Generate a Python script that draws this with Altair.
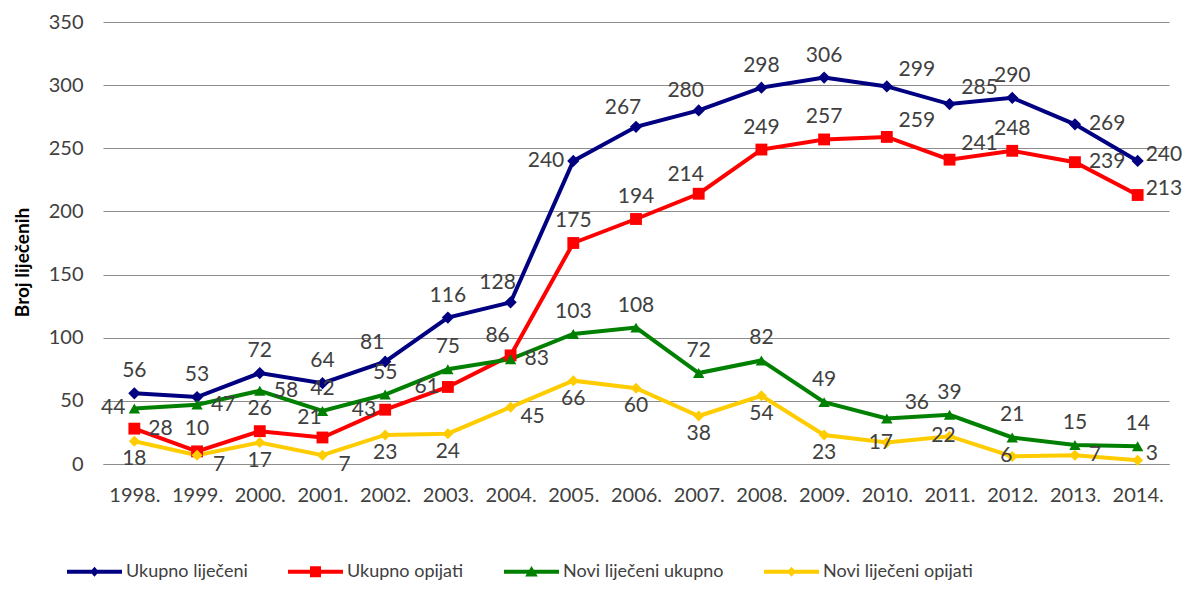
import altair as alt
import pandas as pd

# ---------------- data ----------------
years = ["1998.", "1999.", "2000.", "2001.", "2002.", "2003.", "2004.", "2005.", "2006.",
         "2007.", "2008.", "2009.", "2010.", "2011.", "2012.", "2013.", "2014."]
series_names = ["Ukupno liječeni", "Ukupno opijati", "Novi liječeni ukupno", "Novi liječeni opijati"]

ukupno_lijeceni = [56, 53, 72, 64, 81, 116, 128, 240, 267, 280, 298, 306, 299, 285, 290, 269, 240]
ukupno_opijati = [28, 10, 26, 21, 43, 61, 86, 175, 194, 214, 249, 257, 259, 241, 248, 239, 213]
novi_ukupno = [44, 47, 58, 42, 55, 75, 83, 103, 108, 72, 82, 49, 36, 39, 21, 15, 14]
novi_opijati = [18, 7, 17, 7, 23, 24, 45, 66, 60, 38, 54, 23, 17, 22, 6, 7, 3]

# label placement codes (style, not data): a=above, b=below, l=left, r=right,
# al/ar=above-left/right, br=below-right, o=on point, e=right (edge, tight)
label_pos = {
    "Ukupno liječeni": ["a", "a", "a", "a", "al", "a", "al", "l", "al", "al", "a", "a", "ar", "ar", "a", "r", "e"],
    "Ukupno opijati": ["r", "a", "a", "al", "l", "l", "al", "a", "a", "al", "a", "a", "ar", "ar", "a", "r", "e"],
    "Novi liječeni ukupno": ["l", "r", "r", "a", "a", "a", "r", "a", "a", "a", "a", "a", "ar", "a", "a", "a", "a"],
    "Novi liječeni opijati": ["b", "br", "b", "br", "b", "b", "br", "b", "b", "b", "b", "b", "o", "o", "o", "r", "e"],
}

values_by_series = [ukupno_lijeceni, ukupno_opijati, novi_ukupno, novi_opijati]
rows = []
for name, vals in zip(series_names, values_by_series):
    for yr, v, p in zip(years, vals, label_pos[name]):
        rows.append({"year": yr, "series": name, "value": v, "pos": p})
df = pd.DataFrame(rows)

colors = ["#000080", "#FF0000", "#008000", "#FFCC00"]
FONT = "Lato"
TXT = "#404040"

color_scale = alt.Scale(domain=series_names, range=colors)

x_enc = alt.X("year:N", sort=years, scale=alt.Scale(type="point", padding=0.5),
              axis=alt.Axis(title=None, labelAngle=0, labelFont=FONT, labelFontSize=20,
                            labelColor=TXT, ticks=False, labelPadding=21,
                            domainColor="#8c8c8c", grid=False))
y_enc = alt.Y("value:Q", scale=alt.Scale(domain=[0, 350], nice=False),
              axis=alt.Axis(title="Broj liječenih", values=list(range(0, 351, 50)),
                            labelFont=FONT, labelFontSize=20, labelColor=TXT,
                            ticks=False, labelPadding=20, domain=False,
                            gridColor="#8c8c8c", gridWidth=1,
                            titleFont=FONT, titleFontSize=19, titleFontWeight="bold",
                            titleColor="#000000", titleX=-81, titleY=240,
                            titleAngle=270, titleAlign="center", titleBaseline="middle"))

base = alt.Chart(df).encode(x=x_enc, y=y_enc)

lines = base.mark_line(strokeWidth=4).encode(
    color=alt.Color("series:N", scale=color_scale, legend=None))

points = base.mark_point(filled=True, opacity=1).encode(
    color=alt.Color("series:N", scale=color_scale, legend=None),
    shape=alt.Shape("series:N", scale=alt.Scale(domain=series_names,
                    range=["diamond", "square", "triangle-up", "diamond"]), legend=None),
    size=alt.Size("series:N", scale=alt.Scale(domain=series_names,
                  range=[150, 121, 175, 150]), legend=None),
)

offsets = {
    "a": (0, -22, "center"),
    "b": (0, 18, "center"),
    "l": (-9, 0, "right"),
    "r": (14, 0, "left"),
    "e": (8, -6, "left"),
    "al": (-13, -19, "center"),
    "ar": (30, -16, "center"),
    "br": (22, 10, "center"),
    "o": (-6, 0, "center"),
}
text_layers = []
for code, (dx, dy, al) in offsets.items():
    text_layers.append(
        base.transform_filter(alt.datum.pos == code).mark_text(
            dx=dx, dy=dy, align=al, baseline="middle", font=FONT, fontSize=21, color=TXT
        ).encode(text="value:Q")
    )

# legend: line + marker symbols
line_part = "M-1,-0.075L1,-0.075L1,0.075L-1,0.075Z"
legend_paths = [
    line_part + "M0,-0.18L0.16,0L0,0.18L-0.16,0Z",
    line_part + "M-0.2,-0.2L0.2,-0.2L0.2,0.2L-0.2,0.2Z",
    line_part + "M0,-0.21L0.23,0.17L-0.23,0.17Z",
    line_part + "M0,-0.18L0.16,0L0,0.18L-0.16,0Z",
]
legend_def = alt.Legend(title=None, orient="none", legendX=-36, legendY=522,
                        direction="horizontal", columns=4, symbolSize=3025,
                        labelFont=FONT, labelFontSize=18, labelColor=TXT,
                        labelOffset=4, columnPadding=40, labelLimit=0, padding=0,
                        symbolStrokeWidth=0, symbolOpacity=1)
legend_layer = base.transform_filter("false").mark_point(filled=True, opacity=1).encode(
    color=alt.Color("series:N", scale=color_scale, legend=legend_def),
    shape=alt.Shape("series:N", scale=alt.Scale(domain=series_names, range=legend_paths),
                    legend=legend_def),
)

chart = alt.layer(lines, points, *text_layers, legend_layer).resolve_scale(
    color="independent", shape="independent"
).properties(
    width=1066, height=442,
    autosize=alt.AutoSizeParams(type="none"),
    padding={"left": 95, "top": 14, "right": 18, "bottom": 117},
).configure_view(stroke=None)

chart.save("out.html", embed_options={"renderer": "svg", "actions": False})
